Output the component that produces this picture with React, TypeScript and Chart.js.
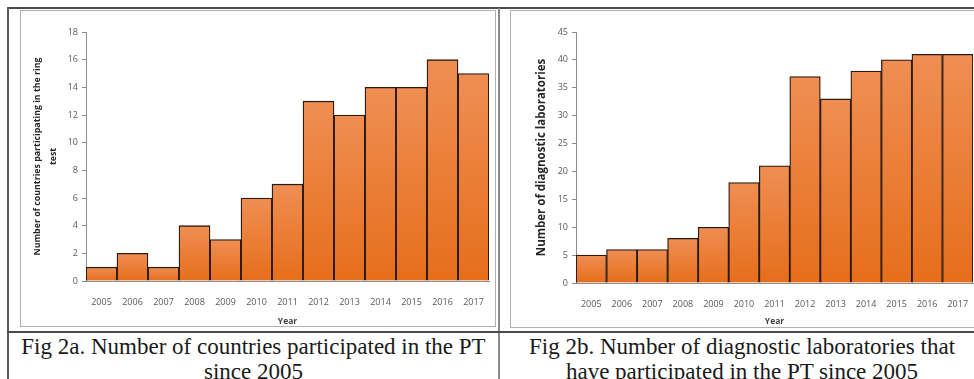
import React, { useEffect, useRef } from 'react';
import { Chart, registerables } from 'chart.js';
Chart.register(...registerables);

const years = ['2005', '2006', '2007', '2008', '2009', '2010', '2011', '2012', '2013', '2014', '2015', '2016', '2017'];
const countries = [1, 2, 1, 4, 3, 6, 7, 13, 12, 14, 14, 16, 15];
const laboratories = [5, 6, 6, 8, 10, 18, 21, 37, 33, 38, 40, 41, 41];
const countriesTitle = ['Number of countries participating in the ring', 'test'];
const labsTitle = 'Number of diagnostic laboratories';
const xTitle = 'Year';
const caption1 = ['Fig 2a. Number of countries participated in the PT', 'since 2005'];
const caption2 = ['Fig 2b. Number of diagnostic laboratories that', 'have participated in the PT since 2005'];

const SANS = '"Open Sans", "Liberation Sans", sans-serif';

type BarProps = {
  values: number[];
  max: number;
  step: number;
  title: string | string[];
  titleSize: number;
  titleLH: number;
  titlePad: number;
  padRight: number;
  xHeight: number;
  width: number;
  height: number;
};

function BarChart(p: BarProps) {
  const ref = useRef<HTMLCanvasElement | null>(null);
  useEffect(() => {
    if (!ref.current) return;
    const chart = new Chart(ref.current, {
      type: 'bar',
      data: {
        labels: years,
        datasets: [
          {
            data: p.values,
            backgroundColor: (ctx: any) => {
              const c = ctx.chart;
              if (!c.chartArea || ctx.parsed == null) return '#EC7D32';
              const y = c.scales.y;
              const top = y.getPixelForValue(ctx.parsed.y);
              const base = y.getPixelForValue(0);
              if (!isFinite(top) || !isFinite(base) || base - top < 1) return '#EC7D32';
              const g = c.ctx.createLinearGradient(0, top, 0, base);
              g.addColorStop(0, '#EF8E53');
              g.addColorStop(1, '#E66E1B');
              return g;
            },
            borderColor: '#2a1a0f',
            borderWidth: 1.3,
            barPercentage: 1,
            categoryPercentage: 1,
          },
        ],
      },
      options: {
        responsive: false,
        animation: false,
        layout: { padding: { left: 0, top: 22, right: p.padRight, bottom: 0 } },
        plugins: { legend: { display: false }, tooltip: { enabled: false } },
        scales: {
          x: {
            grid: { display: false },
            border: { display: true, color: '#8c8c8c', width: 1 },
            ticks: { color: '#595959', font: { family: SANS, size: 9 }, padding: 8, maxRotation: 0 },
            title: {
              display: true,
              text: xTitle,
              color: '#404040',
              font: { family: SANS, size: 8.5, weight: 'bold' },
              padding: { top: 3, bottom: 0 },
            },
            afterFit: (s: any) => {
              s.height = p.xHeight;
            },
          },
          y: {
            min: 0,
            max: p.max,
            ticks: { stepSize: p.step, color: '#595959', font: { family: SANS, size: 9 }, padding: 4 },
            grid: { drawOnChartArea: false, drawTicks: true, tickLength: 4, color: '#8c8c8c' },
            border: { display: true, color: '#8c8c8c', width: 1 },
            title: {
              display: true,
              text: p.title,
              color: '#262626',
              font: { family: SANS, size: p.titleSize, weight: 'bold', lineHeight: p.titleLH },
              padding: { top: p.titlePad, bottom: 0 },
            },
            afterFit: (s: any) => {
              s.width = 66;
            },
          },
        },
      } as any,
    });
    return () => chart.destroy();
  }, []);
  return <canvas ref={ref} width={p.width} height={p.height} style={{ width: p.width, height: p.height, display: 'block' }} />;
}

export default function App() {
  const abs = (s: React.CSSProperties): React.CSSProperties => ({ position: 'absolute', ...s });
  const capStyle: React.CSSProperties = {
    fontFamily: '"Liberation Serif", "Times New Roman", serif',
    fontSize: 23,
    lineHeight: '25px',
    color: '#1a1a1a',
    textAlign: 'center',
    whiteSpace: 'nowrap',
  };
  return (
    <div style={abs({ left: 0, top: 0, width: 974, height: 379, overflow: 'hidden', background: '#fff' })}>
      {/* table lines */}
      <div style={abs({ left: 7, top: 7, width: 1000, height: 2, background: '#4a4a4a' })} />
      <div style={abs({ left: 7, top: 7, width: 2, height: 380, background: '#5a5a5a' })} />
      <div style={abs({ left: 498, top: 8, width: 2, height: 380, background: '#8a8a8a' })} />
      <div style={abs({ left: 7, top: 331, width: 1000, height: 2, background: '#4a4a4a' })} />
      {/* chart frames */}
      <div style={abs({ left: 20, top: 10, width: 476, height: 317, border: '1.5px solid #b0b0b0', boxSizing: 'border-box' })} />
      <div style={abs({ left: 510, top: 10, width: 500, height: 318, border: '1.5px solid #b0b0b0', boxSizing: 'border-box' })} />
      <div style={abs({ left: 20, top: 10 })}>
        <BarChart values={countries} max={18} step={2} title={countriesTitle} titleSize={8.8} titleLH={1.75} titlePad={10} padRight={8} xHeight={46} width={477} height={317} />
      </div>
      <div style={abs({ left: 510, top: 10 })}>
        <BarChart values={laboratories} max={45} step={5} title={labsTitle} titleSize={11.5} titleLH={1.5} titlePad={23} padRight={11} xHeight={44} width={474} height={317} />
      </div>
      {/* captions */}
      <div style={abs({ left: 8, top: 334, width: 491, ...capStyle })}>
        {caption1[0]}
        <br />
        {caption1[1]}
      </div>
      <div style={abs({ left: 499, top: 334, width: 486, ...capStyle })}>
        {caption2[0]}
        <br />
        {caption2[1]}
      </div>
    </div>
  );
}
